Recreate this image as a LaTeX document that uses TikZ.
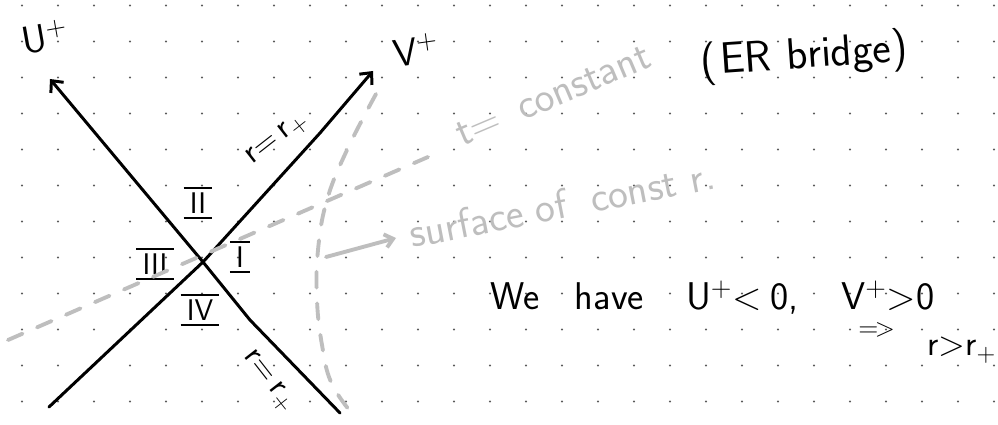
\documentclass[tikz,border=0pt]{standalone}
\usetikzlibrary{arrows.meta, positioning, calc}
\definecolor{colInk}{HTML}{000000}
\definecolor{colPencil}{HTML}{BEBEBE}
\definecolor{colGridDot}{HTML}{5A5A5A}

% roman region number with a bar above and below
\newcommand{\romanbars}[1]{%
  \setbox0=\hbox{#1}%
  \vbox{\hrule height 1.5pt width \dimexpr\wd0+7pt\relax
        \kern1.8pt
        \hbox to \dimexpr\wd0+7pt\relax{\hss\box0\hss}%
        \kern1.8pt
        \hrule height 1.5pt}}

\begin{document}
\begin{tikzpicture}[
    x=0.02cm, y=-0.02cm,
    >=Stealth,
    inkline/.style={
        line width=1.7pt, color=colInk,
        line cap=round, line join=round
    },
    inkarrow/.style={inkline, -{Straight Barb[angle=85:7pt]}},
    pencilline/.style={line width=2.2pt, color=colPencil, line cap=round},
    pencildash/.style={pencilline, dash pattern=on 9pt off 9pt},
    pencilarrow/.style={pencilline, -{Straight Barb[angle=80:6pt]}},
    inktext/.style={
        font=\sffamily\fontsize{22}{26}\selectfont,
        text=colInk, inner sep=0pt
    },
    penciltext/.style={
        font=\sffamily\fontsize{24}{28}\selectfont,
        text=colPencil, inner sep=0pt
    },
    axislabel/.style={font=\sffamily\fontsize{22}{26}\selectfont, inner sep=0pt},
    horizonlabel/.style={font=\sffamily\fontsize{19}{23}\selectfont, inner sep=0pt},
    regionlabel/.style={font=\sffamily\fontsize{17}{20}\selectfont, inner sep=0pt},
    griddot/.style={fill=colGridDot}
]

    % --- PAPER ---
    \path[fill=white, use as bounding box] (0,0) rectangle (998,425);
    \foreach \col in {0,...,27} {
        \foreach \row in {0,...,11} {
            \fill[griddot] (22+36*\col, 5.5+36*\row) circle[radius=0.6pt];
        }
    }

    % --- KRUSKAL AXES ---
    \coordinate (origin) at (203,262);
    \coordinate (uTip)   at (50,79);
    \coordinate (uBend)  at (250,320);
    \coordinate (uEnd)   at (340,413);
    \coordinate (vEnd)   at (49,407);
    \coordinate (vBend)  at (320,133);
    \coordinate (vTip)   at (373,71);

    \draw[inkarrow] (uEnd) -- (uBend) -- (origin) -- (uTip);
    \draw[inkarrow] (vEnd) -- (origin) -- (vBend) -- (vTip);

    \node[axislabel, rotate=10] (uLabel) at (45,37) {U\textsuperscript{+}};
    \node[axislabel, rotate=8]  (vLabel) at (416,50) {V\textsuperscript{+}};

    \node[horizonlabel, rotate=38]  (horizonTop) at (278,140) {r=\,r\textsubscript{+}};
    \node[horizonlabel, rotate=-52] (horizonBot) at (268,382) {r=\,r\textsubscript{+}};

    % --- REGIONS ---
    \node[regionlabel] (regII)  at (198,203) {\romanbars{II}};
    \node[regionlabel] (regIII) at (155,264) {\romanbars{III}};
    \node[regionlabel] (regI)   at (240,257) {\romanbars{I}};
    \node[regionlabel] (regIV)  at (200,310) {\romanbars{IV}};

    % --- PENCIL: slices of constant t and constant r ---
    \coordinate (tStart) at (8,340);
    \coordinate (tEnd)   at (428,157);
    \draw[pencildash] (tStart) -- (tEnd);
    \node[penciltext, rotate=23, anchor=base west] (tLabel) at (462,147)
        {t=\hspace{12pt}constant};

    \draw[pencildash] plot[smooth, tension=0.7] coordinates {
        (376,94) (347,150) (327,200) (318,250) (317,300)
        (322,345) (331,382) (350,411)
    };

    \coordinate (surfStart) at (326,257);
    \coordinate (surfEnd)   at (396,238);
    \draw[pencilarrow] (surfStart) -- (surfEnd);
    \node[penciltext, rotate=11, anchor=base west] (surfLabel) at (412,248)
        {surface\hspace{7pt}of\hspace{14pt}const\hspace{8pt}r.};

    % --- NOTES ---
    \node[inktext, rotate=4, font=\sffamily\fontsize{25}{29}\selectfont] (erNote) at (804,57)
        {(\hspace{2pt}ER\hspace{9pt}bridge)};
    \node[inktext, anchor=base west] (haveNote) at (490,310)
        {We\hspace{20pt}have\hspace{24pt}U\textsuperscript{+}<\hspace{5pt}0,\hspace{24pt}V\textsuperscript{+}>0};
    \node[inktext, anchor=base west, font=\sffamily\fontsize{15}{18}\selectfont]
        (impliesArrow) at (858,337) {=\kern-2pt>};
    \node[inktext, anchor=base west, font=\sffamily\fontsize{20}{23}\selectfont]
        (radiusNote) at (927,356) {r>r\textsubscript{+}};

\end{tikzpicture}
\end{document}
